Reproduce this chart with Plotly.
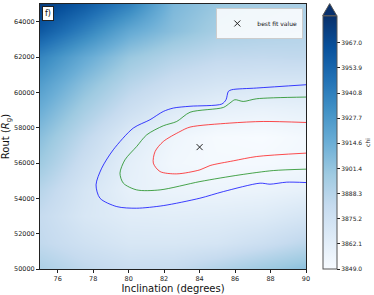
import numpy as np
import plotly.graph_objects as go

# ---- data ----
grid_incl = [75, 77.5, 80, 82.5, 85, 87.5, 90]
grid_rout = [50000, 51500, 53000, 54500, 56000, 57500, 59000, 60500, 62000, 63500, 65000]
chi_grid = [
    [3893, 3885, 3880, 3882, 3890, 3898, 3905],
    [3884, 3876, 3870, 3870, 3872, 3878, 3886],
    [3882, 3870, 3864, 3863, 3864, 3866, 3872],
    [3888, 3872, 3860, 3857, 3856, 3857, 3860],
    [3898, 3878, 3862, 3853, 3851, 3851, 3853],
    [3905, 3885, 3866, 3855, 3850, 3849, 3852],
    [3915, 3895, 3878, 3866, 3860, 3858, 3860],
    [3925, 3905, 3888, 3878, 3872, 3870, 3870],
    [3938, 3918, 3900, 3890, 3884, 3883, 3884],
    [3960, 3940, 3918, 3905, 3895, 3892, 3890],
    [3975, 3960, 3940, 3910, 3900, 3895, 3893],
]

blue_x = [90.0, 87.22, 85.81, 85.62, 85.49, 85.25, 83.46, 82.52, 81.95, 81.2, 80.26, 79.13,
          78.48, 78.16, 78.38, 79.33, 80.45, 81.95, 84.02, 85.34, 87.41, 87.97, 88.91, 90.0]
blue_y = [60430, 60244, 60147, 60051, 59581, 59337, 59212, 59110, 58917, 58447, 57976, 56746,
          55708, 54762, 54008, 53532, 53441, 53588, 54008, 54382, 54858, 54801, 54915, 54893]

green_x = [90.0, 87.22, 86.46, 85.99, 85.71, 85.34, 83.46, 82.71, 81.95, 81.02, 80.45, 79.79,
           79.51, 79.7, 80.45, 81.77, 84.02, 86.28, 88.16, 90.0]
green_y = [59733, 59637, 59484, 59581, 59394, 59144, 58872, 58350, 58106, 57596, 56933, 56179,
           55425, 54858, 54478, 54478, 54949, 55329, 55572, 55652]

red_x = [90.0, 87.59, 85.71, 83.46, 82.9, 81.95, 81.49, 81.39, 81.77, 82.71, 84.02, 84.59,
         85.9, 87.22, 90.0]
red_y = [58294, 58350, 58259, 58033, 57783, 57216, 56650, 55992, 55516, 55385, 55612, 55856,
         56122, 56366, 56559]

best_incl = [84.0]
best_rout = [56900]

chi_min, chi_max = 3849.0, 3981.0
cbar_ticks = list(np.linspace(3849.0, 3967.0, 10))
x_ticks = [76, 78, 80, 82, 84, 86, 88, 90]
y_ticks = [50000, 52000, 54000, 56000, 58000, 60000, 62000, 64000]

# ---- figure ----
blues = [[0.0, '#f7fbff'], [0.125, '#deebf7'], [0.25, '#c6dbef'], [0.375, '#9ecae1'],
         [0.5, '#6baed6'], [0.625, '#4292c6'], [0.75, '#2171b5'], [0.875, '#08519c'],
         [1.0, '#08306b']]

fig = go.Figure()
fig.add_trace(go.Heatmap(
    x=grid_incl, y=grid_rout, z=chi_grid, zsmooth='best',
    colorscale=blues, zmin=chi_min, zmax=chi_max, showscale=True, showlegend=False,
    hoverinfo='skip',
    colorbar=dict(
        x=1.063, xanchor='left', xpad=0, y=0, yanchor='bottom', len=0.955, lenmode='fraction',
        thickness=14, ypad=0, outlinewidth=1, outlinecolor='#555',
        tickvals=cbar_ticks, ticktext=['%.1f' % v for v in cbar_ticks],
        ticks='outside', ticklen=3, tickcolor='#222',
        tickfont=dict(size=6, family='DejaVu Sans', color='#222'),
        title=dict(text='chi', side='right', font=dict(size=6, family='DejaVu Sans', color='#222')),
    ),
))

for xs, ys, col in [(blue_x, blue_y, 'rgba(0,0,255,0.75)'),
                    (green_x, green_y, 'rgba(0,128,0,0.7)'),
                    (red_x, red_y, 'rgba(255,0,0,0.7)')]:
    fig.add_trace(go.Scatter(x=xs, y=ys, mode='lines', line=dict(color=col, width=1, shape='spline', smoothing=0.8),
                             showlegend=False, hoverinfo='skip'))

fig.add_trace(go.Scatter(x=best_incl, y=best_rout, mode='markers', name='best fit value',
                         marker=dict(symbol='x-thin-open', size=6, color='#222', line=dict(color='#222', width=1))))

# colorbar extend arrow
def px2paper(px, py):
    return (px - 40) / 266.0, (269 - py) / 264.6
p1 = px2paper(322.7, 16)
p2 = px2paper(336.7, 16)
p3 = px2paper(329.7, 4)
fig.add_shape(type='path', xref='paper', yref='paper',
              path=f'M {p1[0]} {p1[1]} L {p2[0]} {p2[1]} L {p3[0]} {p3[1]} Z',
              fillcolor='#08306b', line=dict(color='#555', width=1))

fig.add_annotation(text='f)', xref='paper', yref='paper', x=0.006, y=0.992, xanchor='left', yanchor='top',
                   showarrow=False, bgcolor='white', bordercolor='#222', borderwidth=1, borderpad=2,
                   font=dict(size=8, family='DejaVu Sans', color='#111'))

axis_common = dict(showline=True, linecolor='#222', linewidth=1, mirror=True, ticks='outside',
                   ticklen=3, tickcolor='#222', showgrid=False, zeroline=False,
                   tickfont=dict(size=6.5, family='DejaVu Sans', color='#222'))
fig.update_xaxes(range=[75, 90], tickvals=x_ticks, ticktext=[str(v) for v in x_ticks],
                 title=dict(text='Inclination (degrees)', font=dict(size=10, family='DejaVu Sans', color='#111'), standoff=2),
                 **axis_common)
fig.update_yaxes(range=[50000, 65000], tickvals=y_ticks, ticktext=[str(v) for v in y_ticks],
                 title=dict(text='Rout (<i>R</i><sub>g</sub>)', font=dict(size=10, family='DejaVu Sans', color='#111'), standoff=7),
                 **axis_common)

fig.update_layout(
    width=374, height=295, margin=dict(l=40, r=68, t=4, b=26, autoexpand=False),
    paper_bgcolor='white', plot_bgcolor='white',
    legend=dict(x=0.99, y=0.985, xanchor='right', yanchor='top', bgcolor='rgba(255,255,255,0.85)',
                bordercolor='#ccc', borderwidth=1, font=dict(size=6, family='DejaVu Sans', color='#111'),
                itemwidth=30, tracegroupgap=0),
)

fig.write_html('out.html', config={'displayModeBar': False},
               post_script="document.body.style.margin='0';")
